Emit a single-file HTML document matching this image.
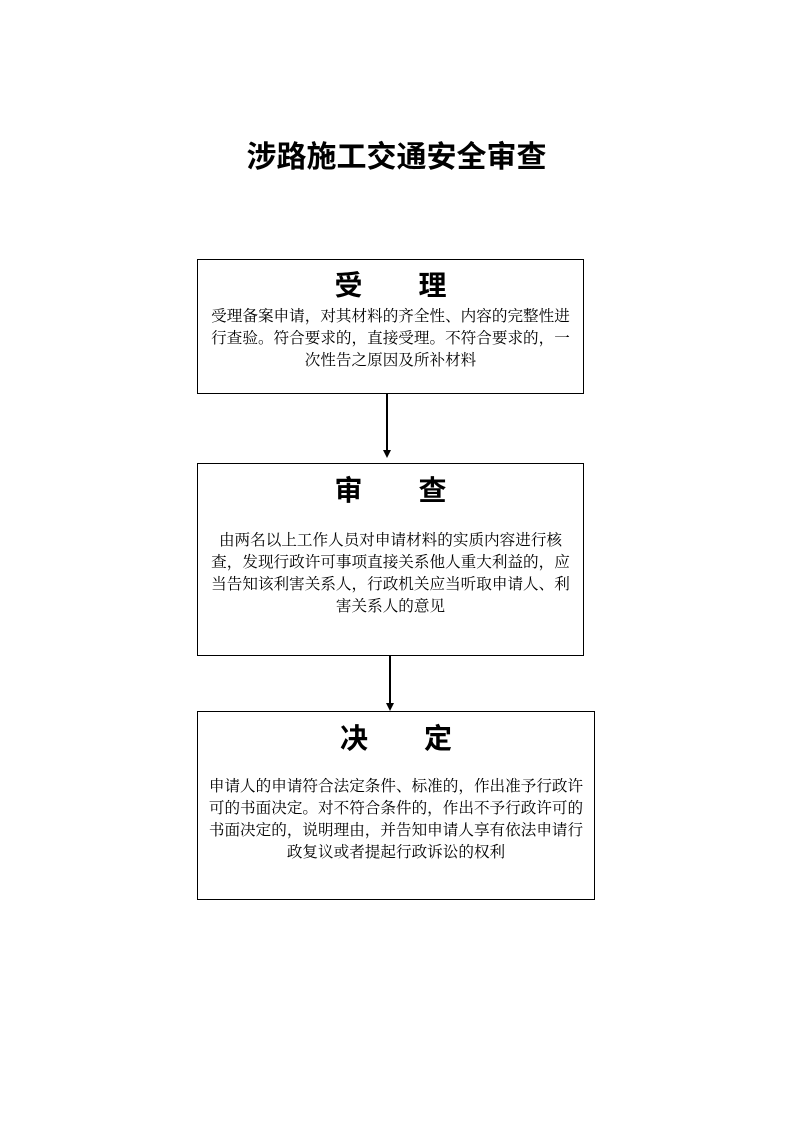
<!DOCTYPE html>
<html><head><meta charset="utf-8"><style>
body{margin:0;background:#fff;}
.p{position:relative;width:793px;height:1122px;font-family:"Liberation Serif","Noto Serif CJK SC",serif;color:#000;}
.b{position:absolute;border:1.5px solid #000;box-sizing:border-box;}
.t{position:absolute;left:0;right:0;text-align:center;white-space:nowrap;}
.h{font-family:"Liberation Sans","Noto Sans CJK SC",sans-serif;font-size:28px;font-weight:bold;line-height:32px;}
.x{font-size:15.6px;line-height:22px;}
.ln{position:absolute;width:1.5px;background:#000;}
.ar{position:absolute;width:0;height:0;border-left:4px solid transparent;border-right:4px solid transparent;border-top:8px solid #000;}
</style></head><body><div class="p">
<div class="t" style="top:140px;font-size:30px;font-weight:bold;line-height:36px;font-family:'Liberation Sans','Noto Sans CJK SC',sans-serif;">涉路施工交通安全审查</div>

<div class="b" style="left:197px;top:259px;width:387px;height:135px;">
<div class="t h" style="top:10px;">受&emsp;&emsp;理</div>
<div class="t x" style="top:46px;">受理备案申请，对其材料的齐全性、内容的完整性进<br>行查验。符合要求的，直接受理。不符合要求的，一<br>次性告之原因及所补材料</div>
</div>
<div class="ln" style="left:386px;top:393px;height:58px;"></div>
<div class="ar" style="left:383px;top:450px;"></div>

<div class="b" style="left:197px;top:463px;width:387px;height:193px;">
<div class="t h" style="top:11px;">审&emsp;&emsp;查</div>
<div class="t x" style="top:66px;">由两名以上工作人员对申请材料的实质内容进行核<br>查，发现行政许可事项直接关系他人重大利益的，应<br>当告知该利害关系人，行政机关应当听取申请人、利<br>害关系人的意见</div>
</div>
<div class="ln" style="left:389px;top:655px;height:48px;"></div>
<div class="ar" style="left:386px;top:703px;"></div>

<div class="b" style="left:197px;top:711px;width:398px;height:189px;">
<div class="t h" style="top:11px;">决&emsp;&emsp;定</div>
<div class="t x" style="top:64px;">申请人的申请符合法定条件、标准的，作出准予行政许<br>可的书面决定。对不符合条件的，作出不予行政许可的<br>书面决定的，说明理由，并告知申请人享有依法申请行<br>政复议或者提起行政诉讼的权利</div>
</div>
</div></body></html>
